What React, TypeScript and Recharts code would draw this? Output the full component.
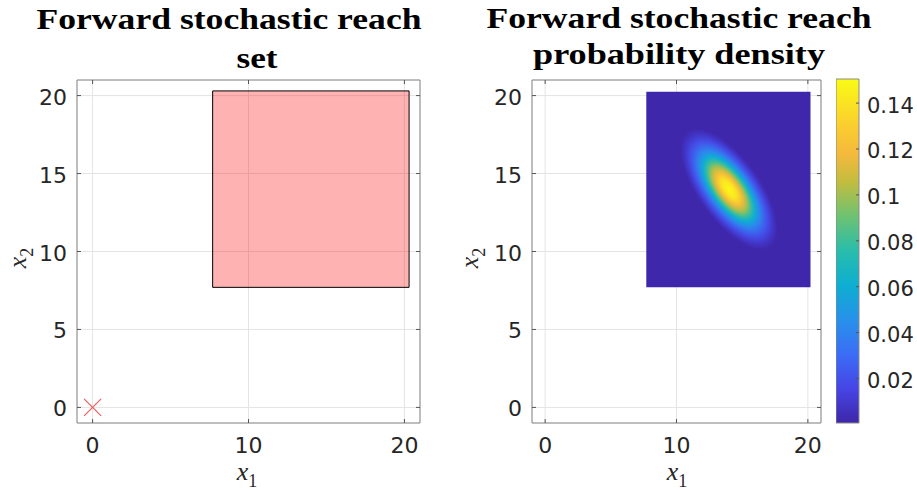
import React from "react";
import {
  CartesianGrid,
  ComposedChart,
  ReferenceArea,
  Scatter,
  ScatterChart,
  XAxis,
  YAxis,
} from "recharts";

// axes (both panels share them)
const axisDomain = [-1, 21];
const xTicks = [0, 10, 20];
const yTicks = [0, 5, 10, 15, 20];

// left panel: reach set box and initial state
const reachSetX = [7.7, 20.3];
const reachSetY = [7.7, 20.3];
const initialState = [{ x: 0, y: 0 }];

// right panel: density grid extent and contours
const densityGridX = [7.7, 20.2];
const densityGridY = [7.7, 20.25];
const densityMean = [{ x: 14, y: 14 }];
const contourValues = [0.15, 0.14, 0.12, 0.1, 0.08, 0.06, 0.04, 0.02, 0.008, 0.001];
const contourRadii = [0, 0.75, 1.3, 1.8, 2.2, 2.6, 3.1, 3.8, 4.4, 4.9];
const contourAspect = 0.45;
const contourAngle = -47;

// colorbar
const colorbarRange = [0.0006, 0.1505];
const colorbarTicks = [0.02, 0.04, 0.06, 0.08, 0.1, 0.12, 0.14];

const parula: [number, string][] = [
  [0, "#3e26a8"],
  [0.1, "#4645e6"],
  [0.2, "#3b6df6"],
  [0.3, "#2791ea"],
  [0.4, "#0eaed2"],
  [0.5, "#28bdab"],
  [0.6, "#6dc272"],
  [0.7, "#c1bd3f"],
  [0.78, "#f3b93c"],
  [0.87, "#fbcf2e"],
  [1, "#f9fb15"],
];

const PLOT_TOP = 80;
const PLOT_H = 343;
const LEFT_W = 343;
const RIGHT_W = 289;
const TICK_FONT = "DejaVu Sans";
const TEXT = "#262626";
const BOX = "#8a8a8a";
const GRID = "#e4e4e4";

function hexToRgb(h: string) {
  const n = parseInt(h.slice(1), 16);
  return [(n >> 16) & 255, (n >> 8) & 255, n & 255];
}

function colorAt(t: number) {
  const v = Math.max(0, Math.min(1, t));
  for (let i = 1; i < parula.length; i++) {
    const [p0, c0] = parula[i - 1];
    const [p1, c1] = parula[i];
    if (v <= p1) {
      const f = (v - p0) / (p1 - p0);
      const a = hexToRgb(c0);
      const b = hexToRgb(c1);
      const m = a.map((x, k) => Math.round(x + (b[k] - x) * f));
      return `rgb(${m[0]},${m[1]},${m[2]})`;
    }
  }
  return parula[parula.length - 1][1];
}

const norm = (v: number) => (v - colorbarRange[0]) / (colorbarRange[1] - colorbarRange[0]);

function XTick(props: any) {
  const { x, y, payload } = props;
  const axisY = y - 12;
  return (
    <g>
      <line x1={x} x2={x} y1={axisY} y2={axisY - 4} stroke="#555" />
      <line x1={x} x2={x} y1={axisY - PLOT_H} y2={axisY - PLOT_H + 4} stroke="#555" />
      <text x={x} y={axisY + 30} textAnchor="middle" fontFamily={TICK_FONT} fontSize={22} fill={TEXT}>
        {payload.value}
      </text>
    </g>
  );
}

function makeYTick(plotW: number) {
  return (props: any) => {
    const { x, y, payload } = props;
    const axisX = x + 10;
    return (
      <g>
        <line x1={axisX} x2={axisX + 4} y1={y} y2={y} stroke="#555" />
        <line x1={axisX + plotW} x2={axisX + plotW - 4} y1={y} y2={y} stroke="#555" />
        <text x={x} y={y + 9} textAnchor="end" fontFamily={TICK_FONT} fontSize={22} fill={TEXT}>
          {payload.value}
        </text>
      </g>
    );
  };
}

function ColorbarTick(props: any) {
  const { x, y, payload } = props;
  const axisX = x - 8;
  return (
    <g>
      <line x1={axisX} x2={axisX - 3} y1={y} y2={y} stroke="#555" />
      <text x={x} y={y + 9.5} textAnchor="start" fontFamily={TICK_FONT} fontSize={21} fill={TEXT}>
        {payload.value}
      </text>
    </g>
  );
}

function CrossMarker(props: any) {
  const { cx, cy } = props;
  const r = 8.5;
  return (
    <g stroke="#ef5b5b" strokeWidth={1.2}>
      <line x1={cx - r} y1={cy - r} x2={cx + r} y2={cy + r} />
      <line x1={cx - r} y1={cy + r} x2={cx + r} y2={cy - r} />
    </g>
  );
}

function DensityBlob(props: any) {
  const { cx, cy } = props;
  const kx = RIGHT_W / (axisDomain[1] - axisDomain[0]);
  const ky = PLOT_H / (axisDomain[1] - axisDomain[0]);
  const a = contourRadii[contourRadii.length - 1];
  return (
    <g transform={`translate(${cx},${cy}) scale(${kx},${-ky}) rotate(${contourAngle})`}>
      <ellipse cx={0} cy={0} rx={a} ry={a * contourAspect} fill="url(#densityFill)" />
    </g>
  );
}

function Panel({ width, plotW, marginLeft, children }: any) {
  return (
    <ScatterChart
      width={width}
      height={491}
      margin={{ top: PLOT_TOP, right: width - marginLeft - 60 - plotW, bottom: 28, left: marginLeft }}
    >
      <CartesianGrid stroke={GRID} />
      <XAxis
        type="number"
        dataKey="x"
        domain={axisDomain}
        ticks={xTicks}
        axisLine={false}
        tickLine={false}
        tickSize={0}
        tickMargin={12}
        height={40}
        tick={XTick}
      />
      <YAxis
        type="number"
        dataKey="y"
        domain={axisDomain}
        ticks={yTicks}
        axisLine={false}
        tickLine={false}
        tickSize={0}
        tickMargin={10}
        width={60}
        tick={makeYTick(plotW)}
      />
      {children}
      <ReferenceArea x1={axisDomain[0]} x2={axisDomain[1]} y1={axisDomain[0]} y2={axisDomain[1]} fill="none" stroke={BOX} />
    </ScatterChart>
  );
}

export default function App() {
  const maxR = contourRadii[contourRadii.length - 1];
  const bg = colorAt(norm(contourValues[contourValues.length - 1]));
  const titleProps = { lengthAdjust: "spacingAndGlyphs" as const };
  return (
    <div style={{ position: "absolute", left: 0, top: 0, width: 917, height: 491, background: "#fff" }}>
      <svg width={0} height={0} style={{ position: "absolute" }}>
        <defs>
          <radialGradient id="densityFill" cx="0.5" cy="0.5" r="0.5">
            {contourValues.map((v, i) => (
              <stop key={i} offset={contourRadii[i] / maxR} stopColor={colorAt(norm(v))} />
            ))}
          </radialGradient>
          <linearGradient id="parulaBar" x1="0" y1="1" x2="0" y2="0">
            {parula.map(([p, c], i) => (
              <stop key={i} offset={p} stopColor={c} />
            ))}
          </linearGradient>
        </defs>
      </svg>

      <div style={{ position: "absolute", left: 0, top: 0 }}>
        <Panel width={440} plotW={LEFT_W} marginLeft={17}>
          <ReferenceArea
            x1={reachSetX[0]}
            x2={reachSetX[1]}
            y1={reachSetY[0]}
            y2={reachSetY[1]}
            fill="#ff0000"
            fillOpacity={0.3}
            stroke="#000"
            strokeWidth={1}
          />
          <Scatter data={initialState} shape={CrossMarker} isAnimationActive={false} />
        </Panel>
      </div>

      <div style={{ position: "absolute", left: 460, top: 0 }}>
        <Panel width={380} plotW={RIGHT_W} marginLeft={12}>
          <ReferenceArea
            x1={densityGridX[0]}
            x2={densityGridX[1]}
            y1={densityGridY[0]}
            y2={densityGridY[1]}
            fill={bg}
            fillOpacity={1}
          />
          <Scatter data={densityMean} shape={DensityBlob} isAnimationActive={false} />
        </Panel>
      </div>

      <div style={{ position: "absolute", left: 836, top: 0 }}>
        <ComposedChart
          width={81}
          height={491}
          data={colorbarTicks.map((v) => ({ v }))}
          margin={{ top: 79, right: 0, bottom: 68, left: 0 }}
        >
          <XAxis type="number" dataKey="v" domain={[0, 1]} hide />
          <YAxis
            orientation="right"
            type="number"
            domain={colorbarRange}
            ticks={colorbarTicks}
            axisLine={false}
            tickLine={false}
            tickSize={0}
            tickMargin={8}
            width={58}
            tick={ColorbarTick}
            allowDataOverflow
          />
          <ReferenceArea
            y1={colorbarRange[0]}
            y2={colorbarRange[1]}
            fill="url(#parulaBar)"
            fillOpacity={1}
            stroke={BOX}
          />
        </ComposedChart>
      </div>

      <svg width={917} height={491} style={{ position: "absolute", left: 0, top: 0, pointerEvents: "none" }}>
        <g fontFamily="Liberation Serif" fontWeight="bold" fontSize={30} fill="#000" textAnchor="middle">
          <text x={229} y={29} textLength={385} {...titleProps}>Forward stochastic reach</text>
          <text x={257} y={68} textLength={41} {...titleProps}>set</text>
          <text x={679} y={28} textLength={385} {...titleProps}>Forward stochastic reach</text>
          <text x={679} y={64} textLength={292} {...titleProps}>probability density</text>
        </g>
        <g fontFamily="Liberation Serif" fill={TEXT} textAnchor="middle">
          <text x={247} y={480} fontSize={26} fontStyle="italic">
            x<tspan fontStyle="normal" fontSize={18} dy={7}>1</tspan>
          </text>
          <text x={677} y={480} fontSize={26} fontStyle="italic">
            x<tspan fontStyle="normal" fontSize={18} dy={7}>1</tspan>
          </text>
          <text transform="translate(26,258) rotate(-90)" fontSize={26} fontStyle="italic">
            x<tspan fontStyle="normal" fontSize={18} dy={7}>2</tspan>
          </text>
          <text transform="translate(478,258) rotate(-90)" fontSize={26} fontStyle="italic">
            x<tspan fontStyle="normal" fontSize={18} dy={7}>2</tspan>
          </text>
        </g>
      </svg>
    </div>
  );
}
